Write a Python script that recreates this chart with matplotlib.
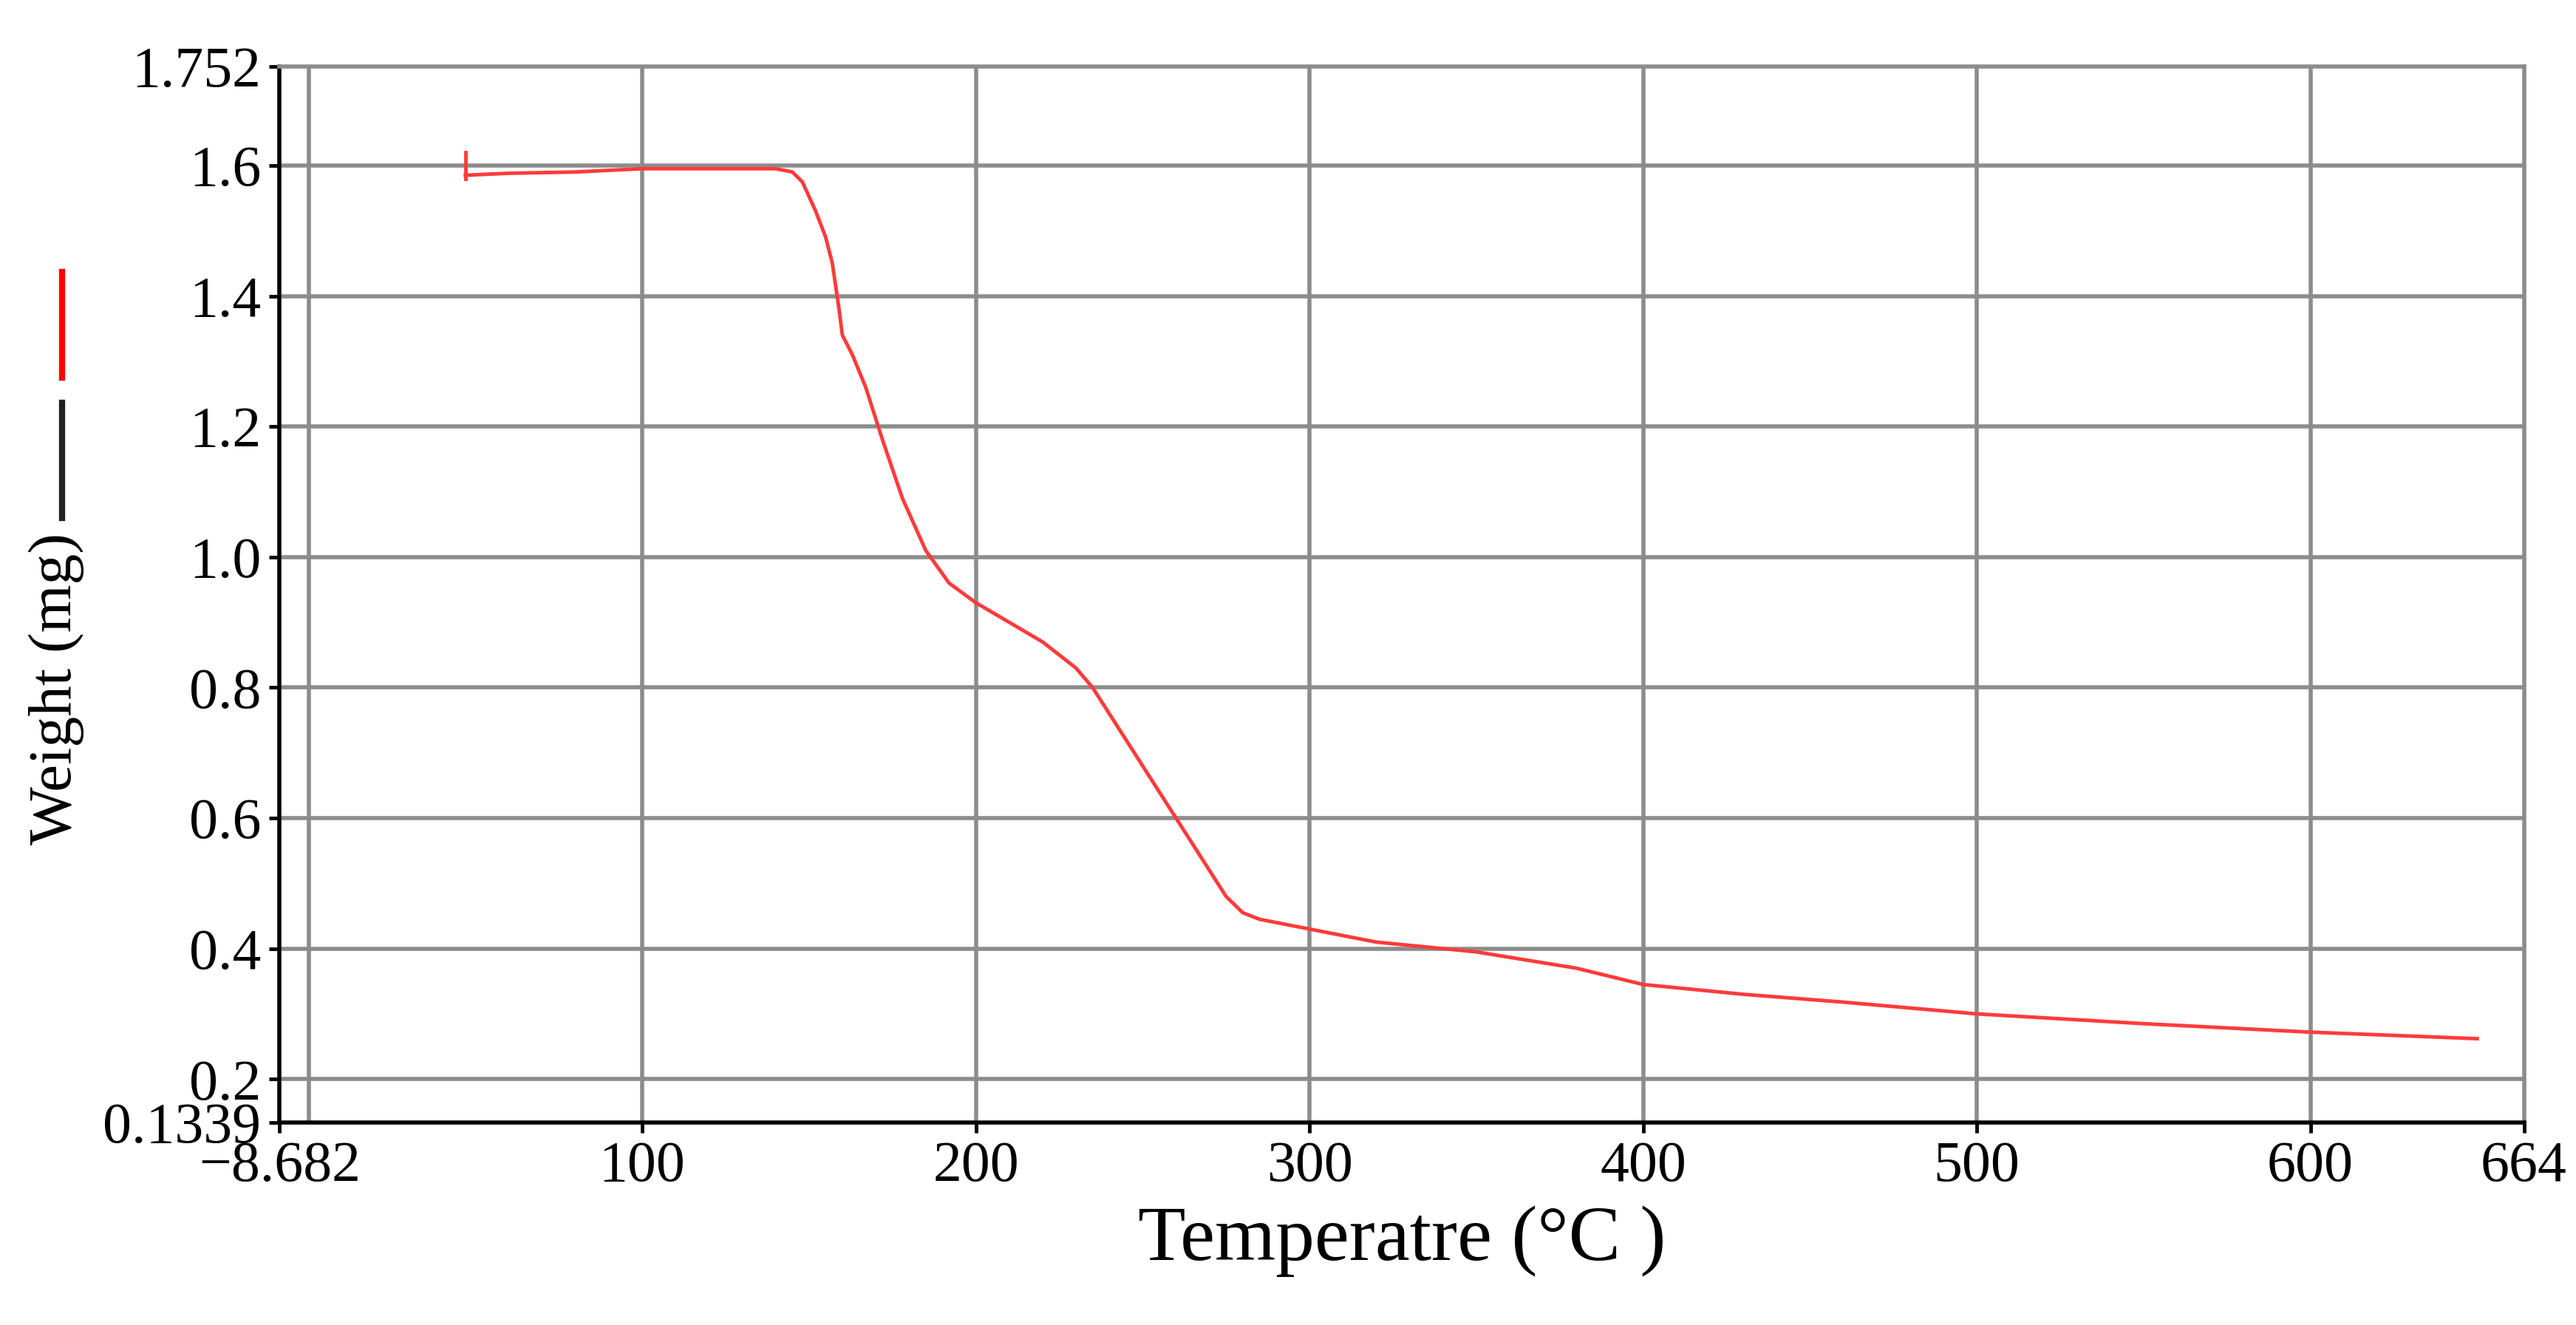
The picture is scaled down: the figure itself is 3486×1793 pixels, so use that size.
import matplotlib
matplotlib.use("Agg")
import matplotlib.pyplot as plt
from matplotlib.lines import Line2D

temp = [47, 60, 80, 100, 120, 140, 145, 148, 152, 155, 157, 159, 160, 163, 167, 172, 178, 185, 192, 200, 210, 220, 230, 235, 245, 255, 265, 275, 280, 285, 300, 320, 350, 380, 400, 430, 460, 500, 550, 600, 650]
weight = [1.585, 1.588, 1.59, 1.595, 1.595, 1.595, 1.59, 1.575, 1.53, 1.49, 1.45, 1.38, 1.34, 1.31, 1.26, 1.18, 1.09, 1.01, 0.96, 0.93, 0.90, 0.87, 0.83, 0.80, 0.72, 0.64, 0.56, 0.48, 0.455, 0.445, 0.43, 0.41, 0.395, 0.37, 0.345, 0.33, 0.318, 0.30, 0.285, 0.272, 0.262]
xticks = [-8.682, 100, 200, 300, 400, 500, 600, 664]
xgrid = [0, 100, 200, 300, 400, 500, 600]
yticks = [0.1339, 0.2, 0.4, 0.6, 0.8, 1.0, 1.2, 1.4, 1.6, 1.752]
ygrid = [0.2, 0.4, 0.6, 0.8, 1.0, 1.2, 1.4, 1.6]

plt.rcParams['font.family'] = ['Liberation Serif', 'DejaVu Serif']
fig = plt.figure(figsize=(34.87, 17.93), dpi=100)
ax = fig.add_axes([0.1085, 0.153, 0.871, 0.797])
ax.set_xlim(-8.682, 664)
ax.set_ylim(0.1339, 1.752)
for g in xgrid:
    ax.axvline(g, color='#8c8c8c', lw=4, zorder=0)
for g in ygrid:
    ax.axhline(g, color='#8c8c8c', lw=4, zorder=0)
ax.plot(temp, weight, color='#ff3b3b', lw=3.5)
ax.plot([47, 47], [1.58, 1.62], color='#ff3b3b', lw=3.5)
ax.set_xticks(xticks)
ax.set_xticklabels(['\u22128.682', '100', '200', '300', '400', '500', '600', '664'])
ax.set_yticks(yticks)
ax.set_yticklabels(['0.1339', '0.2', '0.4', '0.6', '0.8', '1.0', '1.2', '1.4', '1.6', '1.752'])
ax.tick_params(labelsize=56, width=3.5, length=10, direction='out', pad=8)
for s in ['left', 'bottom']:
    ax.spines[s].set_linewidth(4)
    ax.spines[s].set_color('black')
for s in ['top', 'right']:
    ax.spines[s].set_linewidth(4)
    ax.spines[s].set_color('#8c8c8c')
ax.set_xlabel('Temperatre (\u00b0C )', fontsize=76, labelpad=12)
fig.text(0.022, 0.48, 'Weight (mg)', rotation=90, fontsize=60, ha='center', va='center')
fig.add_artist(Line2D([0.0242, 0.0242], [0.715, 0.795], color='red', lw=6))
fig.add_artist(Line2D([0.0242, 0.0242], [0.609, 0.696], color='#222222', lw=6))
fig.savefig('out.png', dpi=100)
